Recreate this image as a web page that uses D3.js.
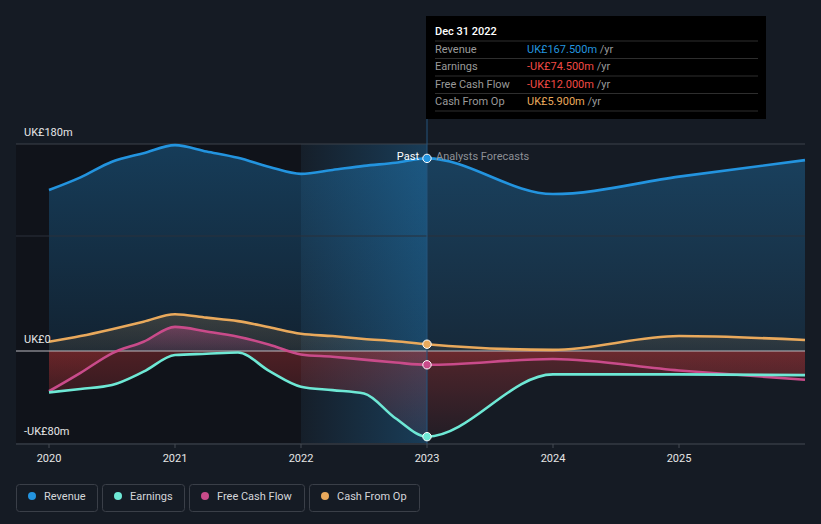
<!DOCTYPE html>
<html><head><meta charset="utf-8">
<script src="https://cdn.jsdelivr.net/npm/d3@7"></script>
<style>
html,body{margin:0;padding:0;background:#151b24;}
svg{display:block;font-family:Roboto,"Noto Sans",sans-serif;}
</style></head>
<body><svg id="c" width="821" height="524"></svg>
<script>
// ---- data ----
const dates = [2020, 2020.25, 2020.5, 2020.75, 2021, 2021.25, 2021.5, 2021.75, 2022, 2022.25, 2022.5, 2022.75, 2023, 2024, 2025, 2026];
const revenue = [140, 151, 164.6, 172, 179, 173.5, 168, 160, 154, 157.4, 161, 163.7, 167.5, 136.5, 151.6, 166];
const earnings = [-36, -33, -29.6, -18, -3.5, -2.4, -1.3, -17.5, -31, -34, -37, -58.5, -74.5, -20.3, -20.3, -21];
const freeCashFlow = [-35, -19, -2, 8, 21, 17, 12.4, 5.5, -3, -5, -7.5, -10, -12, -7, -17, -25];
const cashFromOp = [8, 13, 19, 25.5, 32, 29, 26, 20.6, 15, 13, 10.5, 8.5, 5.9, 1, 13, 9.6];
const seriesNames = ["Revenue", "Earnings", "Free Cash Flow", "Cash From Op"];
const seriesColors = ["#2394df", "#6ee8d5", "#c94b8a", "#e9a95c"];
const xTicks = [2020, 2021, 2022, 2023, 2024, 2025];
const yTicks = [180, 0, -80];
const yTickLabels = ["UK£180m", "UK£0", "-UK£80m"];
const tooltipTitle = "Dec 31 2022";
const tooltipValues = ["UK£167.500m", "-UK£74.500m", "-UK£12.000m", "UK£5.900m"];
const tooltipValueColors = ["#2394df", "#f04a45", "#f04a45", "#e9a95c"];
const nowDate = 2023;
const bandStart = 2022;

const svg = d3.select("#c");
const x = d3.scaleLinear().domain([2020, 2026]).range([49, 805]);
const y = d3.scaleLinear().domain([-80, 180]).range([443, 144]);
const L = 16, R = 805;

const defs = svg.append("defs");
function vgrad(id, color, o1, o2, y1v, y2v){
  const g = defs.append("linearGradient").attr("id", id).attr("gradientUnits","userSpaceOnUse")
    .attr("x1",0).attr("x2",0).attr("y1",y(y1v)).attr("y2",y(y2v));
  g.append("stop").attr("offset","0").attr("stop-color",color).attr("stop-opacity",o1);
  g.append("stop").attr("offset","1").attr("stop-color",color).attr("stop-opacity",o2);
}
vgrad("gRev", "#2394df", 0.32, 0.12, 180, 0);
vgrad("gCfo", "#e9a95c", 0.18, 0.08, 30, 0);
vgrad("gFcf", "#c94b8a", 0.35, 0.15, 20, 0);
vgrad("gNeg", "#e03c3c", 0.30, 0.05, 0, -80);
vgrad("gNeg2", "#e03c3c", 0.18, 0.04, 0, -40);
const hb = defs.append("linearGradient").attr("id","gBand").attr("x1",0).attr("x2",1).attr("y1",0).attr("y2",0);
hb.append("stop").attr("offset","0").attr("stop-color","#2394df").attr("stop-opacity",0.03);
hb.append("stop").attr("offset","1").attr("stop-color","#2394df").attr("stop-opacity",0.28);

// background
svg.append("rect").attr("width",821).attr("height",524).attr("fill","#151b24");
svg.append("rect").attr("x",L).attr("y",y(180)).attr("width",x(bandStart)-L).attr("height",y(-80)-y(180)).attr("fill","#0f1217").attr("opacity",0.75);
svg.append("rect").attr("x",x(bandStart)).attr("y",y(180)).attr("width",x(nowDate)-x(bandStart)).attr("height",y(-80)-y(180)).attr("fill","url(#gBand)");

const idx = d3.range(dates.length);
function area(vals, fill){
  svg.append("path").datum(idx)
    .attr("d", d3.area().x(i=>x(dates[i])).y0(y(0)).y1(i=>y(vals[i])).curve(d3.curveMonotoneX))
    .attr("fill", fill);
}
function clippedArea(vals, fillPos, fillNeg){
  area(vals.map(v=>Math.max(v,0)), fillPos);
  area(vals.map(v=>Math.min(v,0)), fillNeg);
}
area(revenue, "url(#gRev)");
clippedArea(cashFromOp, "url(#gCfo)", "url(#gNeg2)");
area(earnings, "url(#gNeg)");

// grid
svg.append("line").attr("x1",L).attr("x2",R).attr("y1",y(180)).attr("y2",y(180)).attr("stroke","#3d424b").attr("stroke-width",1);
svg.append("line").attr("x1",L).attr("x2",R).attr("y1",y(100)).attr("y2",y(100)).attr("stroke","#2a313b").attr("stroke-width",1);
svg.append("line").attr("x1",L).attr("x2",R).attr("y1",y(-80)+1).attr("y2",y(-80)+1).attr("stroke","#454a53").attr("stroke-width",1);

// fcf area separately (positive pink, negative red)
clippedArea(freeCashFlow, "url(#gFcf)", "url(#gNeg2)");

svg.append("line").attr("x1",L).attr("x2",R).attr("y1",y(0)).attr("y2",y(0)).attr("stroke","#b9b9bf").attr("stroke-width",1.2);

// now line
svg.append("line").attr("x1",x(nowDate)).attr("x2",x(nowDate)).attr("y1",119).attr("y2",y(-80)+1).attr("stroke","#24557c").attr("stroke-width",1);

// x axis ticks
svg.append("g").selectAll("line").data(xTicks).join("line")
  .attr("x1",d=>x(d)).attr("x2",d=>x(d)).attr("y1",y(-80)+1).attr("y2",y(-80)+5).attr("stroke","#454a53");
svg.append("g").selectAll("text").data(xTicks).join("text")
  .attr("x",d=>x(d)).attr("y",462).attr("text-anchor","middle").attr("fill","#e6e6e6").attr("font-size",11).text(d=>d);

// lines
const allVals = [revenue, earnings, freeCashFlow, cashFromOp];
const drawOrder = [3, 2, 1, 0];
drawOrder.forEach(k=>{
  svg.append("path").datum(idx)
    .attr("d", d3.line().x(i=>x(dates[i])).y(i=>y(allVals[k][i])).curve(d3.curveMonotoneX))
    .attr("fill","none").attr("stroke",seriesColors[k]).attr("stroke-width",2.6);
});
// markers
const ni = dates.indexOf(nowDate);
allVals.forEach((vals,k)=>{
  svg.append("circle").attr("cx",x(nowDate)).attr("cy",y(vals[ni])).attr("r",4.2)
    .attr("fill",seriesColors[k]).attr("stroke","#ffffff").attr("stroke-width",1);
});

// y labels
yTicks.forEach((t,i)=>{
  svg.append("text").attr("x",24).attr("y",y(t)-8).attr("fill","#e6e6e6").attr("font-size",11).text(yTickLabels[i]);
});

// past / forecast labels
svg.append("text").attr("x",x(nowDate)-8).attr("y",160).attr("text-anchor","end").attr("fill","#ffffff").attr("font-size",11).text("Past");
svg.append("text").attr("x",x(nowDate)+9).attr("y",160).attr("fill","#8d9096").attr("font-size",11).text("Analysts Forecasts");

// tooltip
const tt = svg.append("g");
tt.append("rect").attr("x",426).attr("y",16).attr("width",340).attr("height",103).attr("fill","#000000");
tt.append("text").attr("x",435).attr("y",35).attr("fill","#ffffff").attr("font-size",11).attr("font-weight",500).text(tooltipTitle);
const sepY = [41, 58.5, 76, 93.5, 111];
sepY.forEach(s=>tt.append("line").attr("x1",435).attr("x2",758).attr("y1",s).attr("y2",s).attr("stroke","#2e2e2e").attr("stroke-width",1));
seriesNames.forEach((n,i)=>{
  const by = 53 + i*17.4;
  tt.append("text").attr("x",435).attr("y",by).attr("fill","#9a9a9a").attr("font-size",11).text(n);
  const t = tt.append("text").attr("x",527).attr("y",by).attr("font-size",11);
  t.append("tspan").attr("fill",tooltipValueColors[i]).text(tooltipValues[i]);
  t.append("tspan").attr("fill","#9a9a9a").text(" /yr");
});

// legend
const lg = svg.append("g");
let lx = 16;
const pads = [81, 82, 115, 110];
seriesNames.forEach((n,i)=>{
  const w = pads[i];
  lg.append("rect").attr("x",lx+0.5).attr("y",484.5).attr("width",w).attr("height",27).attr("rx",3)
    .attr("fill","none").attr("stroke","#3a3f48");
  lg.append("circle").attr("cx",lx+16).attr("cy",496).attr("r",4).attr("fill",seriesColors[i]);
  lg.append("text").attr("x",lx+28).attr("y",500).attr("fill","#d4d6da").attr("font-size",11).text(n);
  lx += w + 5;
});
</script></body></html>
